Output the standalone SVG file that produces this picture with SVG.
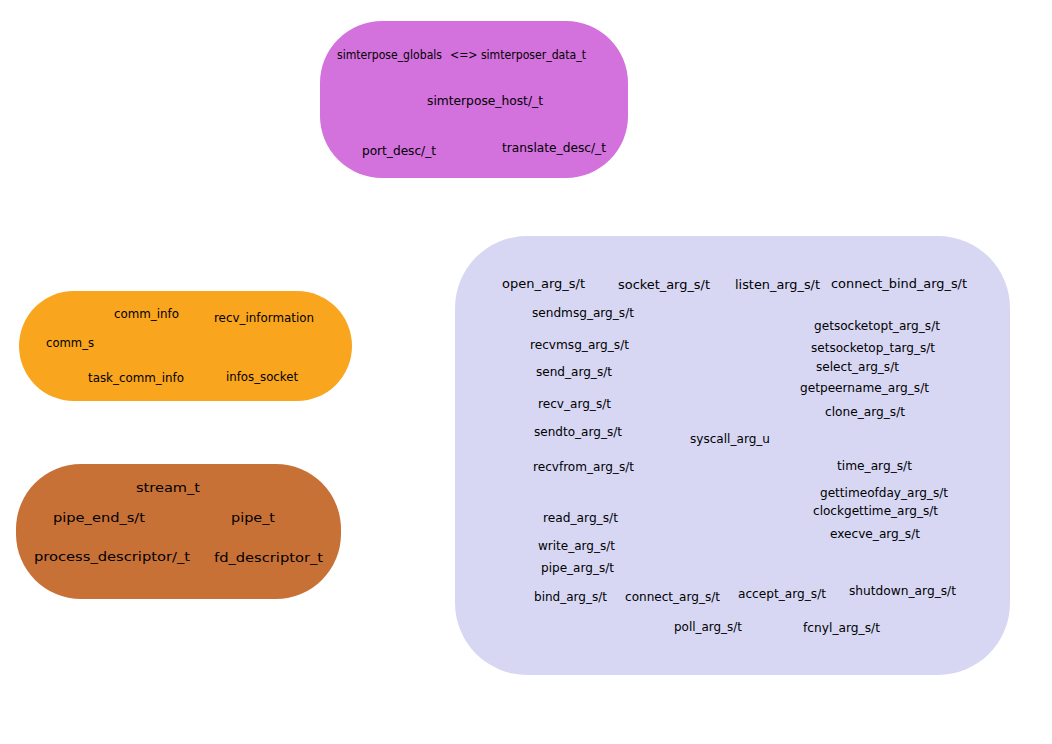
<svg xmlns="http://www.w3.org/2000/svg" width="1052" height="744" viewBox="0 0 1052 744">
<style>
text{font-family:"DejaVu Sans","Liberation Sans",sans-serif;font-size:13px;fill:#000}
.b text{font-size:13px}
</style>
<rect width="1052" height="744" fill="#fff"/>
<g id="globals">
<rect x="320" y="21" width="308" height="157" rx="62" ry="62" fill="#d371dd"/>
<text x="337" y="59" textLength="105" lengthAdjust="spacingAndGlyphs">simterpose_globals</text>
<text x="450" y="59" textLength="136" lengthAdjust="spacingAndGlyphs">&lt;=&gt; simterposer_data_t</text>
<text x="427" y="105" textLength="116" lengthAdjust="spacingAndGlyphs">simterpose_host/_t</text>
<text x="362" y="155" textLength="74" lengthAdjust="spacingAndGlyphs">port_desc/_t</text>
<text x="502" y="152" textLength="104" lengthAdjust="spacingAndGlyphs">translate_desc/_t</text>
</g>
<g id="comm">
<rect x="19" y="291" width="333" height="110" rx="55" ry="55" fill="#f9a51e"/>
<text x="114" y="318" textLength="65" lengthAdjust="spacingAndGlyphs">comm_info</text>
<text x="214" y="322" textLength="100" lengthAdjust="spacingAndGlyphs">recv_information</text>
<text x="46" y="347" textLength="48" lengthAdjust="spacingAndGlyphs">comm_s</text>
<text x="88" y="382" textLength="96" lengthAdjust="spacingAndGlyphs">task_comm_info</text>
<text x="226" y="381" textLength="72" lengthAdjust="spacingAndGlyphs">infos_socket</text>
</g>
<g id="descriptors" class="b">
<rect x="16" y="464" width="325" height="135" rx="65" ry="65" fill="#c87137"/>
<text x="136" y="492" textLength="64" lengthAdjust="spacingAndGlyphs">stream_t</text>
<text x="53" y="522" textLength="92" lengthAdjust="spacingAndGlyphs">pipe_end_s/t</text>
<text x="231" y="522" textLength="44" lengthAdjust="spacingAndGlyphs">pipe_t</text>
<text x="34" y="561" textLength="156" lengthAdjust="spacingAndGlyphs">process_descriptor/_t</text>
<text x="214" y="562" textLength="109" lengthAdjust="spacingAndGlyphs">fd_descriptor_t</text>
</g>
<g id="syscalls">
<rect x="455" y="236" width="555" height="439" rx="72" ry="72" fill="#d7d7f4"/>
<text x="502" y="288" textLength="83" lengthAdjust="spacingAndGlyphs">open_arg_s/t</text>
<text x="618" y="289" textLength="92" lengthAdjust="spacingAndGlyphs">socket_arg_s/t</text>
<text x="735" y="289" textLength="85" lengthAdjust="spacingAndGlyphs">listen_arg_s/t</text>
<text x="831" y="288" textLength="136" lengthAdjust="spacingAndGlyphs">connect_bind_arg_s/t</text>
<text x="532" y="317" textLength="102" lengthAdjust="spacingAndGlyphs">sendmsg_arg_s/t</text>
<text x="530" y="349" textLength="99" lengthAdjust="spacingAndGlyphs">recvmsg_arg_s/t</text>
<text x="536" y="376" textLength="76" lengthAdjust="spacingAndGlyphs">send_arg_s/t</text>
<text x="538" y="408" textLength="73" lengthAdjust="spacingAndGlyphs">recv_arg_s/t</text>
<text x="534" y="436" textLength="88" lengthAdjust="spacingAndGlyphs">sendto_arg_s/t</text>
<text x="533" y="471" textLength="101" lengthAdjust="spacingAndGlyphs">recvfrom_arg_s/t</text>
<text x="690" y="443" textLength="80" lengthAdjust="spacingAndGlyphs">syscall_arg_u</text>
<text x="814" y="330" textLength="126" lengthAdjust="spacingAndGlyphs">getsocketopt_arg_s/t</text>
<text x="811" y="352" textLength="124" lengthAdjust="spacingAndGlyphs">setsocketop_targ_s/t</text>
<text x="816" y="371" textLength="83" lengthAdjust="spacingAndGlyphs">select_arg_s/t</text>
<text x="800" y="392" textLength="129" lengthAdjust="spacingAndGlyphs">getpeername_arg_s/t</text>
<text x="825" y="416" textLength="80" lengthAdjust="spacingAndGlyphs">clone_arg_s/t</text>
<text x="837" y="470" textLength="75" lengthAdjust="spacingAndGlyphs">time_arg_s/t</text>
<text x="820" y="497" textLength="128" lengthAdjust="spacingAndGlyphs">gettimeofday_arg_s/t</text>
<text x="813" y="515" textLength="125" lengthAdjust="spacingAndGlyphs">clockgettime_arg_s/t</text>
<text x="830" y="538" textLength="90" lengthAdjust="spacingAndGlyphs">execve_arg_s/t</text>
<text x="543" y="522" textLength="75" lengthAdjust="spacingAndGlyphs">read_arg_s/t</text>
<text x="538" y="550" textLength="77" lengthAdjust="spacingAndGlyphs">write_arg_s/t</text>
<text x="541" y="572" textLength="73" lengthAdjust="spacingAndGlyphs">pipe_arg_s/t</text>
<text x="534" y="601" textLength="73" lengthAdjust="spacingAndGlyphs">bind_arg_s/t</text>
<text x="625" y="601" textLength="95" lengthAdjust="spacingAndGlyphs">connect_arg_s/t</text>
<text x="738" y="598" textLength="88" lengthAdjust="spacingAndGlyphs">accept_arg_s/t</text>
<text x="849" y="595" textLength="107" lengthAdjust="spacingAndGlyphs">shutdown_arg_s/t</text>
<text x="674" y="631" textLength="68" lengthAdjust="spacingAndGlyphs">poll_arg_s/t</text>
<text x="803" y="632" textLength="77" lengthAdjust="spacingAndGlyphs">fcnyl_arg_s/t</text>
</g>
<g id="connectors"/>
</svg>
